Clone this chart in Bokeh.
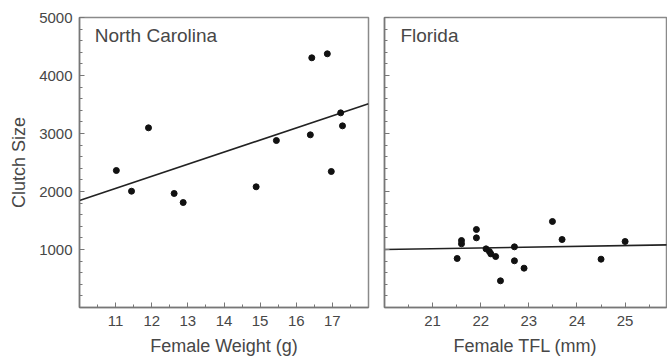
from bokeh.plotting import figure
from bokeh.layouts import row
from bokeh.models import Label, Range1d, FixedTicker
from bokeh.embed import file_html
from bokeh.resources import INLINE

# North Carolina: female weight (g) vs clutch size
nc_weight = [11.02, 11.44, 11.91, 12.62, 12.87, 14.89, 15.45, 16.39, 16.43, 16.86, 16.97, 17.23, 17.28]
nc_clutch = [2362, 2005, 3098, 1966, 1810, 2081, 2879, 2977, 4305, 4374, 2345, 3356, 3132]
nc_fit_x = [10, 18]
nc_fit_y = [1845, 3512]

# Florida: female TFL (mm) vs clutch size
fl_tfl = [21.51, 21.6, 21.6, 21.91, 21.91, 22.11, 22.18, 22.21, 22.31, 22.41, 22.7, 22.7, 22.9, 23.49, 23.69, 24.5, 25.0]
fl_clutch = [845, 1155, 1098, 1345, 1201, 1011, 965, 925, 879, 460, 1046, 805, 678, 1483, 1172, 833, 1138]
fl_fit_x = [20, 26]
fl_fit_y = [1000, 1082]

x_ticks_nc = [11, 12, 13, 14, 15, 16, 17]
x_ticks_fl = [21, 22, 23, 24, 25]
y_ticks = [1000, 2000, 3000, 4000, 5000]

FONT = "Liberation Sans"
TXT = "#474747"
AX = "#777777"


def style(p):
    p.background_fill_color = "white"
    p.border_fill_color = "white"
    p.outline_line_color = "#8a8a8a"
    p.outline_line_width = 1.5
    p.xgrid.visible = False
    p.ygrid.visible = False
    for ax in (p.xaxis[0], p.yaxis[0]):
        ax.axis_line_color = AX
        ax.axis_line_width = 1.5
        ax.major_tick_line_color = AX
        ax.minor_tick_line_color = AX
        ax.major_tick_in = 5
        ax.major_tick_out = 0
        ax.minor_tick_in = 3
        ax.minor_tick_out = 0
        ax.major_label_text_font = FONT
        ax.major_label_text_color = TXT
        ax.major_label_text_font_size = "15px"
        ax.axis_label_text_font = FONT
        ax.axis_label_text_color = TXT
        ax.axis_label_text_font_size = "18px"
        ax.axis_label_text_font_style = "normal"
    p.xaxis[0].major_label_standoff = 8
    p.xaxis[0].axis_label_standoff = 7
    p.yaxis[0].major_label_standoff = 7
    p.yaxis[0].axis_label_standoff = 7


p1 = figure(width=376, height=360, output_backend="svg", toolbar_location=None,
            x_range=Range1d(10, 18), y_range=Range1d(0, 5000),
            min_border_left=79, min_border_right=8, min_border_top=17, min_border_bottom=53)
style(p1)
p1.xaxis[0].ticker = FixedTicker(ticks=x_ticks_nc, minor_ticks=[v + 0.5 for v in [10] + x_ticks_nc])
p1.yaxis[0].ticker = FixedTicker(ticks=y_ticks, minor_ticks=list(range(0, 5001, 200)))
p1.xaxis.axis_label = "Female Weight (g)"
p1.yaxis.axis_label = "Clutch Size"
p1.line(nc_fit_x, nc_fit_y, line_color="#222222", line_width=1.6)
p1.scatter(nc_weight, nc_clutch, size=6, color="#111111")
p1.add_layout(Label(x=10.42, y=4690, text="North Carolina", text_font=FONT, text_font_size="19px",
                    text_color=TXT, text_baseline="middle"))

p2 = figure(width=291, height=360, output_backend="svg", toolbar_location=None,
            x_range=Range1d(20, 25.86), y_range=Range1d(0, 5000),
            min_border_left=8, min_border_right=1, min_border_top=17, min_border_bottom=53)
style(p2)
p2.xaxis[0].ticker = FixedTicker(ticks=x_ticks_fl, minor_ticks=[v + 0.5 for v in [20] + x_ticks_fl])
p2.yaxis[0].ticker = FixedTicker(ticks=y_ticks, minor_ticks=list(range(0, 5001, 200)))
p2.yaxis[0].major_label_overrides = {t: "" for t in y_ticks}
p2.yaxis[0].major_label_standoff = 0
p2.xaxis.axis_label = "Female TFL (mm)"
p2.line(fl_fit_x, fl_fit_y, line_color="#222222", line_width=1.6)
p2.scatter(fl_tfl, fl_clutch, size=6, color="#111111")
p2.add_layout(Label(x=20.33, y=4690, text="Florida", text_font=FONT, text_font_size="19px",
                    text_color=TXT, text_baseline="middle"))

layout = row(p1, p2)
open("out.html", "w").write(file_html(layout, INLINE))
